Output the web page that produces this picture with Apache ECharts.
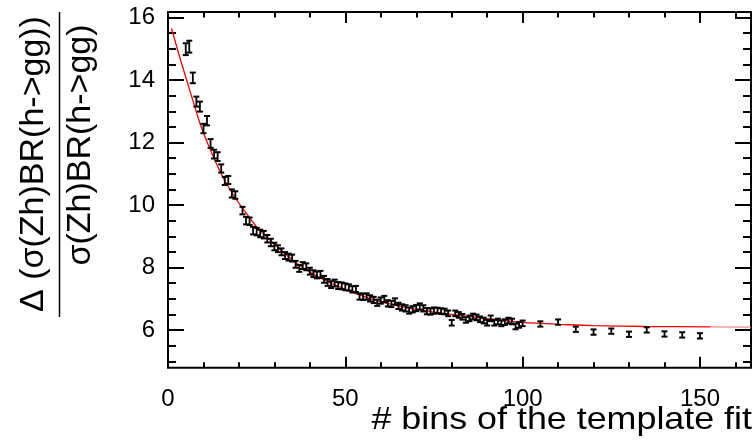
<!DOCTYPE html>
<html>
<head>
<meta charset="utf-8">
<script src="https://cdn.jsdelivr.net/npm/echarts@6/dist/echarts.min.js"></script>
<style>html,body{margin:0;padding:0;background:#fff;}#c{width:754px;height:443px;}</style>
</head>
<body>
<div id="c"></div>
<script>
// ---- data ----
const bins = [5,6,7,8,9,10,11,12,13,14,15,16,17,18,19,
  21,22,23,24,25,26,27,28,29,30,31,32,33,34,35,36,37,38,39,40,
  41,42,43,44,45,46,47,48,49,50,51,52,53,54,55,56,57,58,59,60,
  61,62,63,64,65,66,67,68,69,70,71,72,73,74,75,76,77,78,79,80,
  81,82,83,84,85,86,87,88,89,90,91,92,93,94,95,96,97,98,99,100,
  105,110,115,120,125,130,135,140,145,150];
const values = [14.99,15.07,14.07,13.31,13.15,12.45,12.70,11.97,11.63,11.55,11.17,10.77,10.80,10.37,10.32,
  9.82,9.50,9.48,9.18,9.15,9.09,9.05,8.92,8.80,8.67,8.60,8.50,8.38,8.33,8.30,8.10,7.97,8.06,8.02,7.88,
  7.80,7.76,7.78,7.62,7.52,7.45,7.50,7.42,7.41,7.38,7.36,7.30,7.31,7.07,7.06,7.07,7.01,6.96,6.87,6.94,
  6.99,6.85,6.83,6.91,6.77,6.72,6.69,6.62,6.66,6.70,6.75,6.69,6.60,6.59,6.62,6.62,6.60,6.59,6.53,6.23,
  6.53,6.48,6.42,6.32,6.37,6.43,6.40,6.34,6.30,6.23,6.37,6.23,6.27,6.21,6.25,6.30,6.27,6.11,6.16,6.21,
  6.19,6.25,6.02,5.93,5.96,5.86,6.00,5.87,5.84,5.81];
const errors = [0.19,0.19,0.17,0.16,0.16,0.15,0.15,0.14,0.14,0.14,0.13,0.13,0.13,0.13,0.12,
  0.12,0.12,0.12,0.12,0.12,0.12,0.12,0.12,0.12,0.12,0.11,0.11,0.11,0.11,0.11,0.11,0.11,0.11,0.11,0.11,
  0.11,0.11,0.11,0.11,0.11,0.11,0.11,0.11,0.11,0.11,0.10,0.10,0.10,0.10,0.10,0.10,0.10,0.10,0.10,0.10,
  0.10,0.10,0.10,0.10,0.10,0.10,0.10,0.10,0.10,0.10,0.10,0.10,0.10,0.10,0.10,0.09,0.09,0.09,0.09,0.09,
  0.09,0.09,0.09,0.09,0.09,0.09,0.09,0.09,0.09,0.09,0.09,0.09,0.09,0.09,0.09,0.09,0.09,0.09,0.09,0.09,
  0.085,0.085,0.085,0.085,0.085,0.085,0.085,0.085,0.085,0.085];
const fitX = [1,3,5,7,9,12,15,18,21,25,30,35,40,45,50,55,60,70,80,90,100,110,120,135,153];
const fitY = [15.65,14.85,14.1,13.35,12.62,11.75,11.0,10.4,9.9,9.3,8.75,8.25,7.85,7.55,7.3,7.08,6.9,6.66,6.5,6.36,6.24,6.18,6.14,6.11,6.1];
const tailX = [153,164.4];
const tailY = [6.1,6.09];
const xTickLabels = ['0','50','100','150'];
const yTickLabels = ['6','8','10','12','14','16'];
const xTitle = '# bins of the template fit';
const yNumerator = '\u0394 (\u03c3(Zh)BR(h->gg))';
const yDenominator = '\u03c3(Zh)BR(h->gg)';

// ---- chart ----
const FONT = 'Liberation Sans, Arial, Helvetica, sans-serif';
const chart = echarts.init(document.getElementById('c'), null, {renderer:'canvas'});
const pts = bins.map((b,i)=>[b, values[i], errors[i]]);
const fitData = fitX.map((x,i)=>[x, fitY[i]]);
const tailData = tailX.map((x,i)=>[x, tailY[i]]);

const hiddenX = (g)=>({gridIndex:g, type:'value', show:false, min:0, max:1});
const hiddenY = (g)=>({gridIndex:g, type:'value', show:false, min:0, max:1});
const tickStyle = {color:'#000', width:2};

const option = {
  backgroundColor:'#fff',
  animation:false,
  grid:[
    {left:168, right:3, top:12, bottom:75.3, show:true, borderColor:'#000', borderWidth:2, backgroundColor:'transparent'},
    {left:168, right:54, top:12, bottom:75.3},
    {left:168, right:18.5, top:12, bottom:75.3},
    {left:168, right:3, top:17.5, bottom:113},
    {left:168, right:3, top:17.5, bottom:81.75}
  ],
  xAxis:[
    {gridIndex:0, type:'value', min:0, max:164.4, show:false},
    {gridIndex:1, type:'value', position:'bottom', min:0, max:150, interval:50,
     axisLine:{show:false, onZero:false}, splitLine:{show:false},
     axisTick:{show:true, inside:true, length:11, lineStyle:tickStyle},
     axisLabel:{show:true, margin:20, fontSize:24, lineHeight:24, color:'#000', fontFamily:FONT,
       formatter:(v)=>{const i=[0,50,100,150].indexOf(v); return i>=0?xTickLabels[i]:'';}}},
    {gridIndex:1, type:'value', position:'top', min:0, max:150, interval:50,
     axisLine:{show:false, onZero:false}, splitLine:{show:false}, axisLabel:{show:false},
     axisTick:{show:true, inside:true, length:11, lineStyle:tickStyle}},
    {gridIndex:2, type:'value', position:'bottom', min:0, max:160, interval:10,
     axisLine:{show:false, onZero:false}, splitLine:{show:false}, axisLabel:{show:false},
     axisTick:{show:true, inside:true, length:5.5, lineStyle:tickStyle}},
    {gridIndex:2, type:'value', position:'top', min:0, max:160, interval:10,
     axisLine:{show:false, onZero:false}, splitLine:{show:false}, axisLabel:{show:false},
     axisTick:{show:true, inside:true, length:5.5, lineStyle:tickStyle}},
    hiddenX(3), hiddenX(4)
  ],
  yAxis:[
    {gridIndex:0, type:'value', min:4.79, max:16.18, show:false},
    hiddenY(1), hiddenY(2),
    {gridIndex:3, type:'value', position:'left', min:6, max:16, interval:2,
     axisLine:{show:false, onZero:false}, splitLine:{show:false},
     axisTick:{show:true, inside:true, length:16, lineStyle:tickStyle},
     axisLabel:{show:true, margin:13, fontSize:24, color:'#000', fontFamily:FONT,
       formatter:(v)=>{const i=[6,8,10,12,14,16].indexOf(v); return i>=0?yTickLabels[i]:'';}}},
    {gridIndex:3, type:'value', position:'right', min:6, max:16, interval:2,
     axisLine:{show:false, onZero:false}, splitLine:{show:false}, axisLabel:{show:false},
     axisTick:{show:true, inside:true, length:16, lineStyle:tickStyle}},
    {gridIndex:4, type:'value', position:'left', min:5, max:16, interval:0.5,
     axisLine:{show:false, onZero:false}, splitLine:{show:false}, axisLabel:{show:false},
     axisTick:{show:true, inside:true, length:8, lineStyle:tickStyle}},
    {gridIndex:4, type:'value', position:'right', min:5, max:16, interval:0.5,
     axisLine:{show:false, onZero:false}, splitLine:{show:false}, axisLabel:{show:false},
     axisTick:{show:true, inside:true, length:8, lineStyle:tickStyle}}
  ],
  series:[
    {type:'line', xAxisIndex:0, yAxisIndex:0, data:fitData, smooth:0.25, showSymbol:false, symbol:'none',
     lineStyle:{color:'#ff0000', width:1.3}, z:2},
    {type:'line', xAxisIndex:0, yAxisIndex:0, data:tailData, showSymbol:false, symbol:'none',
     lineStyle:{color:'#e98a8a', width:1.2}, z:2},
    {type:'custom', xAxisIndex:0, yAxisIndex:0, data:pts, z:5,
     renderItem:function(params, api){
       const x = api.value(0), y = api.value(1), e = api.value(2);
       const c = api.coord([x, y]);
       const hi = api.coord([x, y + e]);
       const lo = api.coord([x, y - e]);
       const w = 3;
       const st = {stroke:'#000', lineWidth:2};
       return {type:'group', children:[
         {type:'line', shape:{x1:c[0], y1:hi[1], x2:c[0], y2:lo[1]}, style:{stroke:'#000', lineWidth:1.8}},
         {type:'line', shape:{x1:c[0]-w, y1:hi[1], x2:c[0]+w, y2:hi[1]}, style:st},
         {type:'line', shape:{x1:c[0]-w, y1:lo[1], x2:c[0]+w, y2:lo[1]}, style:st}
       ]};
     }}
  ],
  graphic:[
    {type:'text', x:752, y:420, scaleX:1.12, style:{text:xTitle, fill:'#000', font:'32px '+FONT, textAlign:'right', textVerticalAlign:'middle'}},
    {type:'text', x:34, y:164, rotation:Math.PI/2, style:{text:yNumerator, fill:'#000', font:'34px '+FONT, textAlign:'center', textVerticalAlign:'middle'}},
    {type:'line', shape:{x1:59.5, y1:12, x2:59.5, y2:317}, style:{stroke:'#000', lineWidth:1.5}},
    {type:'text', x:81, y:145, rotation:Math.PI/2, style:{text:yDenominator, fill:'#000', font:'34px '+FONT, textAlign:'center', textVerticalAlign:'middle'}}
  ]
};
chart.setOption(option);
</script>
</body>
</html>
